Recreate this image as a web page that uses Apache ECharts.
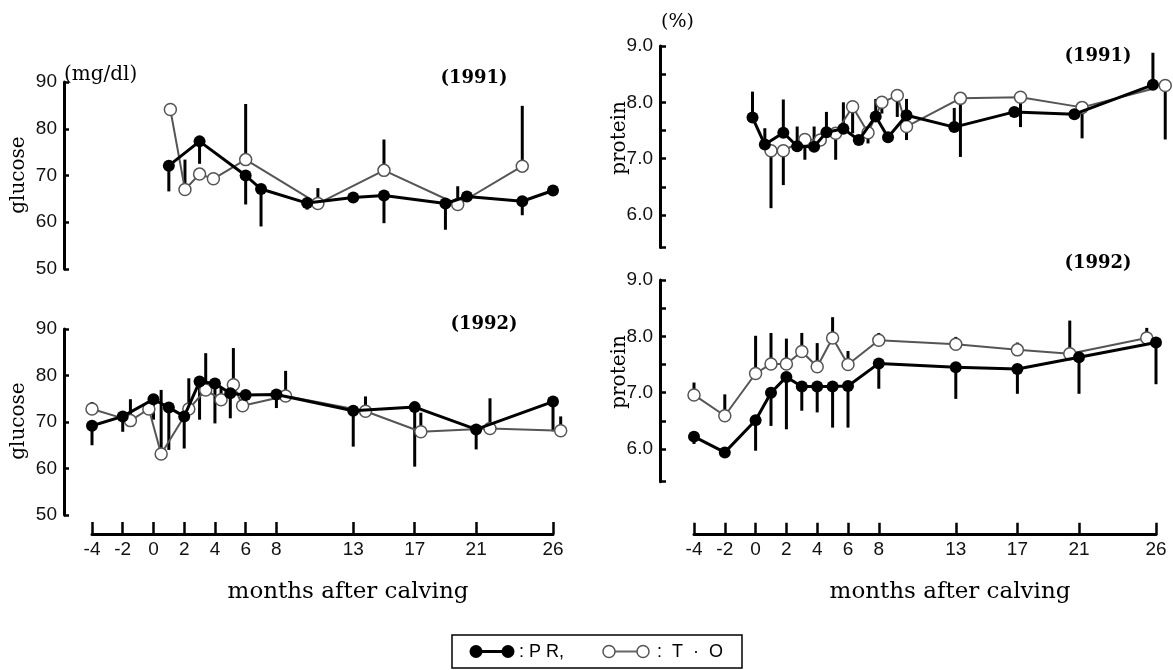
<!DOCTYPE html>
<html>
<head>
<meta charset="utf-8">
<script src="https://cdn.jsdelivr.net/npm/echarts@6/dist/echarts.min.js"></script>
<style>html,body{margin:0;padding:0;background:#fff}#c{width:1173px;height:670px}</style>
</head>
<body>
<div id="c"></div>
<script>
// ---- tick labels ----
const tickMonths = [-4, -2, 0, 2, 4, 6, 8, 13, 17, 21, 26];
const glucoseTicks = [50, 60, 70, 80, 90];
const proteinLabelTicks = [6, 7, 8, 9];
const proteinTicks = [5.42, 6, 6.5, 7, 7.5, 8, 8.5, 9];

// ---- glucose 1991 ----
const g91PrMonths = [1, 3, 6, 7, 10, 13, 15, 19, 20.4, 24, 26];
const g91PrVals   = [72.1, 77.3, 70.0, 67.1, 64.1, 65.3, 65.7, 64.0, 65.5, 64.5, 66.8];
const g91PrErr    = [66.6, 72.5, 63.8, 59.1, 62.7, null, 59.8, 58.4, null, 61.5, null];
const g91ToMonths = [1.1, 2.05, 3.0, 3.9, 6.0, 10.7, 15.0, 19.8, 24.0];
const g91ToVals   = [84.1, 67.0, 70.3, 69.3, 73.4, 64.0, 71.1, 63.8, 72.0];
const g91ToErr    = [null, 73.4, null, null, 85.3, 67.3, 77.7, 67.7, 84.9];

// ---- glucose 1992 ----
const g92PrMonths = [-4, -2, 0, 1, 2, 3, 4, 5, 6, 8, 13, 17, 21, 26];
const g92PrVals   = [69.2, 71.2, 74.9, 73.1, 71.2, 78.7, 78.3, 76.2, 75.8, 75.9, 72.4, 73.2, 68.4, 74.4];
const g92PrErr    = [65.0, 67.9, 70.5, 64.0, 64.3, 70.5, 69.7, 70.8, 74.0, 73.0, 64.7, 60.4, 64.1, 68.0];
const g92ToMonths = [-4, -1.5, -0.3, 0.5, 2.3, 3.4, 4.4, 5.2, 5.8, 8.6, 13.8, 17.4, 21.9, 26.5];
const g92ToVals   = [72.8, 70.3, 72.8, 63.1, 72.8, 76.9, 74.8, 78.0, 73.5, 75.6, 72.3, 67.9, 68.6, 68.1];
const g92ToErr    = [74.3, 74.9, null, 76.9, 79.4, 84.8, 77.5, 85.9, null, 81.0, 75.5, 72.0, 75.1, 71.2];

// ---- protein 1991 ----
const p91PrMonths = [-0.2, 0.6, 1.8, 2.7, 3.8, 4.6, 5.7, 6.7, 7.8, 8.6, 9.8, 12.9, 16.8, 20.7, 25.8];
const p91PrVals   = [7.73, 7.25, 7.46, 7.22, 7.21, 7.47, 7.53, 7.33, 7.75, 7.38, 7.77, 7.56, 7.83, 7.79, 8.31];
const p91PrErr    = [8.19, 7.54, 8.05, 7.57, 7.57, 7.83, 8.0, null, 8.06, null, 8.06, 7.9, null, null, 8.88];
const p91ToMonths = [1.0, 1.8, 3.2, 4.2, 5.2, 6.3, 7.3, 8.2, 9.2, 9.8, 13.3, 17.2, 21.2, 26.6];
const p91ToVals   = [7.14, 7.14, 7.34, 7.33, 7.45, 7.92, 7.46, 8.0, 8.12, 7.57, 8.07, 8.09, 7.91, 8.30];
const p91ToErr    = [6.12, 6.53, 6.98, null, 6.98, 7.45, 7.27, 7.8, 7.74, 7.33, 7.03, 7.56, 7.36, 7.34];

// ---- protein 1992 ----
const p92PrMonths = [-4, -2, 0, 1, 2, 3, 4, 5, 6, 8, 13, 17, 21, 26];
const p92PrVals   = [6.22, 5.94, 6.51, 7.0, 7.28, 7.11, 7.11, 7.11, 7.12, 7.52, 7.45, 7.42, 7.63, 7.89];
const p92PrErr    = [6.09, 5.85, 5.97, 6.41, 6.35, 6.68, 6.65, 6.38, 6.38, 7.07, 6.89, 6.98, 6.98, 7.15];
const p92ToMonths = [-4, -2, 0, 1, 2, 3, 4, 5, 6, 8, 13, 17, 20.4, 25.4];
const p92ToVals   = [6.96, 6.59, 7.34, 7.51, 7.51, 7.73, 7.46, 7.97, 7.50, 7.93, 7.86, 7.76, 7.69, 7.97];
const p92ToErr    = [7.18, 6.97, 8.01, 8.06, 7.96, 8.06, 7.88, 8.34, 7.74, 8.06, 7.99, 7.89, 8.28, 8.15];

const SANS = "'Liberation Sans', Arial, sans-serif";
const SERIF = "'DejaVu Serif', serif";
const axisLineStyle = { color: '#000', width: 3 };

function yAx(grid, min, max, interval, isProtein) {
  const ax = {
    gridIndex: grid, type: 'value', min: min, max: max,
    offset: isProtein ? 34 : 28,
    axisLine: { show: true, onZero: false, lineStyle: axisLineStyle },
    axisTick: { show: true, inside: true, length: isProtein ? 6 : 5, lineStyle: { color: '#000', width: 2.5 } },
    axisLabel: { margin: 7, fontSize: 19, fontFamily: SANS, color: '#111',
      formatter: v => isProtein ? Number(v).toFixed(1) : String(v) },
    splitLine: { show: false }
  };
  if (isProtein) {
    ax.axisTick.customValues = proteinTicks;
    ax.axisLabel.customValues = proteinLabelTicks;
  } else {
    ax.interval = interval;
  }
  return ax;
}
function xAx(grid, show, offset) {
  return {
    gridIndex: grid, type: 'value', min: -4, max: 26, show: show, position: 'bottom', offset: offset,
    axisLine: { show: true, onZero: false, lineStyle: axisLineStyle },
    axisTick: { show: true, inside: true, length: 12, customValues: tickMonths, lineStyle: { color: '#000', width: 2.5 } },
    axisLabel: { customValues: tickMonths, margin: 6, fontSize: 19, fontFamily: SANS, color: '#111' },
    splitLine: { show: false }
  };
}
function pairs(ms, vs) { return ms.map((m, i) => [m, vs[i]]); }
function errSeries(idx, ms, vs, es) {
  const data = [];
  ms.forEach((m, i) => { if (es[i] != null) data.push([m, vs[i], es[i]]); });
  return {
    type: 'custom', xAxisIndex: idx, yAxisIndex: idx, z: 1, clip: false, silent: true,
    encode: { x: 0, y: [1, 2] },
    data: data,
    renderItem: function (params, api) {
      const a = api.coord([api.value(0), api.value(1)]);
      const b = api.coord([api.value(0), api.value(2)]);
      return { type: 'line', shape: { x1: a[0], y1: a[1], x2: b[0], y2: b[1] },
        style: { stroke: '#000', lineWidth: 3 } };
    }
  };
}
function prSeries(idx, ms, vs) {
  return { type: 'line', xAxisIndex: idx, yAxisIndex: idx, z: 4, clip: false, data: pairs(ms, vs),
    symbol: 'circle', symbolSize: 12, itemStyle: { color: '#000' },
    lineStyle: { color: '#000', width: 3 } };
}
function toSeries(idx, ms, vs) {
  return { type: 'line', xAxisIndex: idx, yAxisIndex: idx, z: 3, clip: false, data: pairs(ms, vs),
    symbol: 'circle', symbolSize: 12, itemStyle: { color: '#fff', borderColor: '#555', borderWidth: 1.5 },
    lineStyle: { color: '#555', width: 2 } };
}

const grids = [
  { left: 92, top: 82, width: 461, height: 187 },
  { left: 92, top: 329, width: 461, height: 186 },
  { left: 694, top: 46, width: 462, height: 201.6 },
  { left: 694, top: 280, width: 462, height: 201.7 }
].map(g => Object.assign({ containLabel: false, outerBoundsMode: 'none' }, g));

function txt(x, y, s, font, opts) {
  return Object.assign({ type: 'text', x: x, y: y, silent: true,
    style: Object.assign({ text: s, font: font, fill: '#000', textAlign: 'center', textVerticalAlign: 'middle' }, (opts && opts.style) || {}) },
    (opts && opts.rot) ? { rotation: opts.rot } : {});
}

const graphics = [
  txt(64, 75, '(mg/dl)', '20px ' + SERIF, { style: { textAlign: 'left' } }),
  txt(661, 22, '(%)', '19px ' + SERIF, { style: { textAlign: 'left' } }),
  txt(19, 175, 'glucose', '20px ' + SERIF, { rot: Math.PI / 2 }),
  txt(19, 421, 'glucose', '20px ' + SERIF, { rot: Math.PI / 2 }),
  txt(620, 138, 'protein', '20px ' + SERIF, { rot: Math.PI / 2 }),
  txt(620, 372, 'protein', '20px ' + SERIF, { rot: Math.PI / 2 }),
  txt(474, 78, '(1991)', 'bold 18px ' + SERIF),
  txt(484, 324, '(1992)', 'bold 18px ' + SERIF),
  txt(1098, 56, '(1991)', 'bold 18px ' + SERIF),
  txt(1098, 263, '(1992)', 'bold 18px ' + SERIF),
  txt(348, 592, 'months after calving', '23px ' + SERIF),
  txt(950, 592, 'months after calving', '23px ' + SERIF),
  // legend
  { type: 'rect', silent: true, shape: { x: 452, y: 635, width: 290, height: 33 }, style: { fill: '#fff', stroke: '#000', lineWidth: 1.5 } },
  { type: 'line', silent: true, shape: { x1: 476, y1: 651.5, x2: 508, y2: 651.5 }, style: { stroke: '#000', lineWidth: 3 } },
  { type: 'circle', silent: true, shape: { cx: 476, cy: 651.5, r: 6.5 }, style: { fill: '#000' } },
  { type: 'circle', silent: true, shape: { cx: 508, cy: 651.5, r: 6.5 }, style: { fill: '#000' } },
  txt(519, 652, ': P R,', '18px ' + SANS, { style: { textAlign: 'left' } }),
  { type: 'line', silent: true, shape: { x1: 609, y1: 651.5, x2: 643, y2: 651.5 }, style: { stroke: '#666', lineWidth: 2 } },
  { type: 'circle', silent: true, shape: { cx: 609, cy: 651.5, r: 6 }, style: { fill: '#fff', stroke: '#555', lineWidth: 1.5 } },
  { type: 'circle', silent: true, shape: { cx: 643, cy: 651.5, r: 6 }, style: { fill: '#fff', stroke: '#555', lineWidth: 1.5 } },
  txt(657, 652, ':  T  ·  O', '18px ' + SANS, { style: { textAlign: 'left' } })
];

const option = {
  animation: false,
  backgroundColor: '#fff',
  grid: grids,
  xAxis: [xAx(0, false, 0), xAx(1, true, 19), xAx(2, false, 0), xAx(3, true, 53)],
  yAxis: [yAx(0, 50, 90, 10, false), yAx(1, 50, 90, 10, false), yAx(2, 5.42, 9, null, true), yAx(3, 5.42, 9, null, true)],
  graphic: graphics,
  series: [
    errSeries(0, g91ToMonths, g91ToVals, g91ToErr), errSeries(0, g91PrMonths, g91PrVals, g91PrErr),
    toSeries(0, g91ToMonths, g91ToVals), prSeries(0, g91PrMonths, g91PrVals),
    errSeries(1, g92ToMonths, g92ToVals, g92ToErr), errSeries(1, g92PrMonths, g92PrVals, g92PrErr),
    toSeries(1, g92ToMonths, g92ToVals), prSeries(1, g92PrMonths, g92PrVals),
    errSeries(2, p91ToMonths, p91ToVals, p91ToErr), errSeries(2, p91PrMonths, p91PrVals, p91PrErr),
    toSeries(2, p91ToMonths, p91ToVals), prSeries(2, p91PrMonths, p91PrVals),
    errSeries(3, p92ToMonths, p92ToVals, p92ToErr), errSeries(3, p92PrMonths, p92PrVals, p92PrErr),
    toSeries(3, p92ToMonths, p92ToVals), prSeries(3, p92PrMonths, p92PrVals)
  ]
};
const chart = echarts.init(document.getElementById('c'), null, { renderer: 'canvas' });
chart.setOption(option);
</script>
</body>
</html>
